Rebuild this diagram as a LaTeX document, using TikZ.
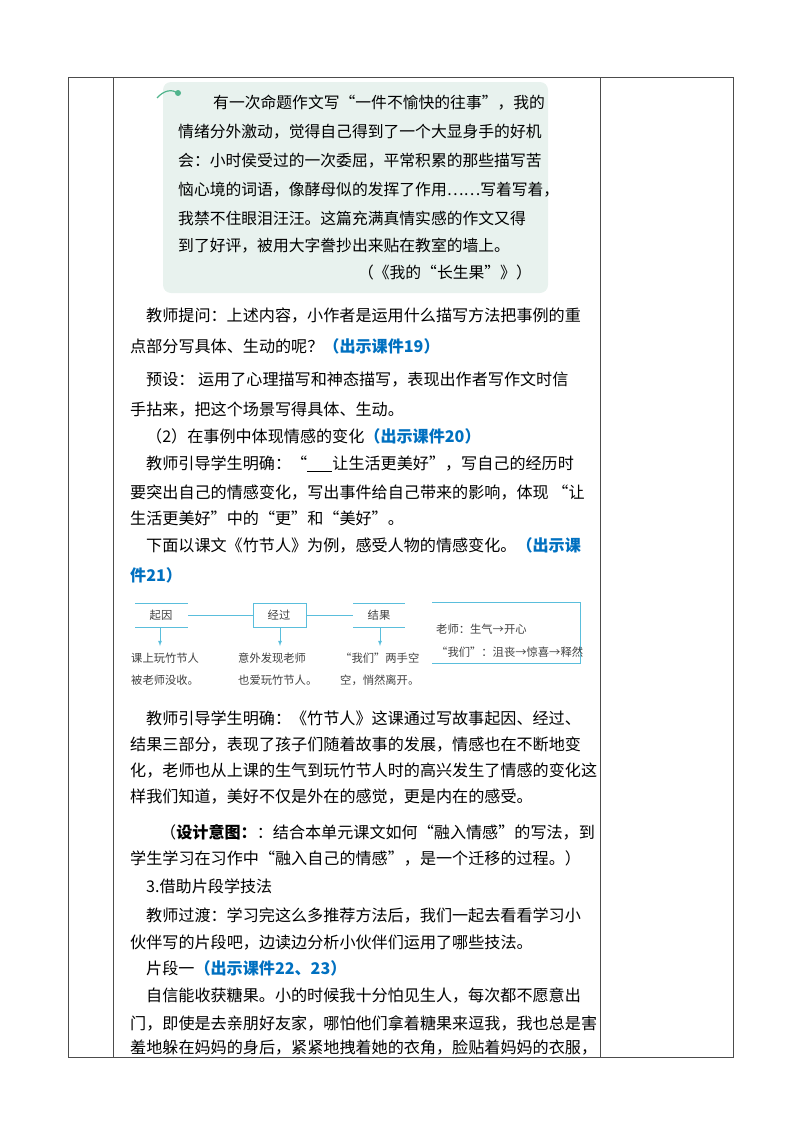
\documentclass[tikz,border=0pt]{standalone}
\usepackage{fontspec}
\setmainfont{Noto Sans CJK SC}
\usetikzlibrary{positioning}
\definecolor{kjblue}{RGB}{0,112,192}
\definecolor{quotebg}{RGB}{232,242,238}
\definecolor{flowblue}{RGB}{90,190,220}
\definecolor{dotgreen}{RGB}{80,180,140}
\newcommand{\kj}[1]{\textcolor{kjblue}{\bfseries #1}}
\tikzset{
  body/.style={anchor=west, inner sep=0pt, font=\fontsize{16.1}{16.1}\selectfont},
  quote/.style={anchor=west, inner sep=0pt, font=\fontsize{15.8}{15.8}\selectfont},
  small/.style={anchor=west, inner sep=0pt, font=\fontsize{11.3}{11.3}\selectfont, text=black!75},
  flow/.style={draw=flowblue, line width=0.8pt},
}
\begin{document}
\begin{tikzpicture}[x=1pt,y=-1pt]
\useasboundingbox (0,0) rectangle (800,1132);
% table frame
\draw[black!70, line width=0.7pt] (68,77) rectangle (733,1057);
\foreach \x in {113,600} \draw[black!70, line width=0.7pt] (\x,77) -- (\x,1057);
% quote box
\fill[quotebg, rounded corners=8pt] (163,82) rectangle (548,293);
\draw[dotgreen, line width=1.2pt] (157,98) .. controls (164,90) and (172,89) .. (178,93);
\fill[dotgreen] (178,93) circle (3pt);
\node[quote] (q1) at (213,103) {有一次命题作文写“一件不愉快的往事”，我的};
\node[quote] (q2) at (178,132) {情绪分外激动，觉得自己得到了一个大显身手的好机};
\node[quote] (q3) at (178,161) {会：小时侯受过的一次委屈，平常积累的那些描写苦};
\node[quote] (q4) at (178,190) {恼心境的词语，像酵母似的发挥了作用……写着写着，};
\node[quote] (q5) at (178,218) {我禁不住眼泪汪汪。这篇充满真情实感的作文又得};
\node[quote] (q6) at (178,246) {到了好评，被用大字誊抄出来贴在教室的墙上。};
\node[quote, anchor=east] (q7) at (532,272) {（《我的“长生果”》）};
% body text
\node[body] (t1) at (146,316) {教师提问：上述内容，小作者是运用什么描写方法把事例的重};
\node[body] (t2) at (130,346) {点部分写具体、生动的呢？\kj{（出示课件19）}};
\node[body] (t3) at (146,380) {预设：\ 运用了心理描写和神态描写，表现出作者写作文时信};
\node[body] (t4) at (130,410) {手拈来，把这个场景写得具体、生动。};
\node[body] (t5) at (146,436) {（2）在事例中体现情感的变化\kj{（出示课件20）}};
\node[body] (t6) at (146,464) {教师引导学生明确：“\underline{\ \ \ \ \ \ \ }让生活更美好”，写自己的经历时};
\node[body] (t7) at (130,493) {要突出自己的情感变化，写出事件给自己带来的影响，体现 “让};
\node[body] (t8) at (130,518) {生活更美好”中的“更”和“美好”。};
\node[body] (t9) at (146,545) {下面以课文《竹节人》为例，感受人物的情感变化。\kj{（出示课}};
\node[body] (t10) at (130,575) {\kj{件21）}};
% flow chart
\node[small, anchor=center] (qiyin) at (161,615) {起因};
\node[small, anchor=center] (jingguo) at (279,615) {经过};
\node[small, anchor=center] (jieguo) at (379,615) {结果};
\draw[flow] (135,603) -- (188,603) (135,627) -- (188,627);
\draw[flow] (253,603) rectangle (306,627);
\draw[flow] (353,603) -- (405,603) (353,627) -- (405,627);
\draw[flow] (188,615) -- (253,615) (306,615) -- (353,615);
\draw[flow] (432,602) -- (580,602) -- (580,663) -- (432,663);
\foreach \x in {160,280,380} \draw[flow,-latex] (\x,627) -- (\x,646);
\node[small] (r1) at (436,629) {老师：生气→开心};
\node[small] (r2) at (436,652) {“我们”：沮丧→惊喜→释然};
\node[small] (b1) at (131,658) {课上玩竹节人};
\node[small] (b2) at (131,680) {被老师没收。};
\node[small] (b3) at (238,658) {意外发现老师};
\node[small] (b4) at (238,680) {也爱玩竹节人。};
\node[small] (b5) at (340,658) {“我们”两手空};
\node[small] (b6) at (340,680) {空，悄然离开。};
% body text again
\node[body] (t11) at (146,718) {教师引导学生明确：《竹节人》这课通过写故事起因、经过、};
\node[body] (t12) at (130,745) {结果三部分，表现了孩子们随着故事的发展，情感也在不断地变};
\node[body] (t13) at (130,771) {化，老师也从上课的生气到玩竹节人时的高兴发生了情感的变化这};
\node[body] (t14) at (130,797) {样我们知道，美好不仅是外在的感觉，更是内在的感受。};
\node[body] (t15) at (160,832) {（\textbf{设计意图：}：结合本单元课文如何“融入情感”的写法，到};
\node[body] (t16) at (130,858) {学生学习在习作中“融入自己的情感”，是一个迁移的过程。）};
\node[body] (t17) at (146,886) {3.借助片段学技法};
\node[body] (t18) at (146,916) {教师过渡：学习完这么多推荐方法后，我们一起去看看学习小};
\node[body] (t19) at (130,943) {伙伴写的片段吧，边读边分析小伙伴们运用了哪些技法。};
\node[body] (t20) at (146,968) {片段一\kj{（出示课件22、23）}};
\node[body] (t21) at (146,996) {自信能收获糖果。小的时候我十分怕见生人，每次都不愿意出};
\node[body] (t22) at (130,1023) {门，即使是去亲朋好友家，哪怕他们拿着糖果来逗我，我也总是害};
\node[body] (t23) at (130,1048) {羞地躲在妈妈的身后，紧紧地拽着她的衣角，脸贴着妈妈的衣服，};
\end{tikzpicture}
\end{document}
